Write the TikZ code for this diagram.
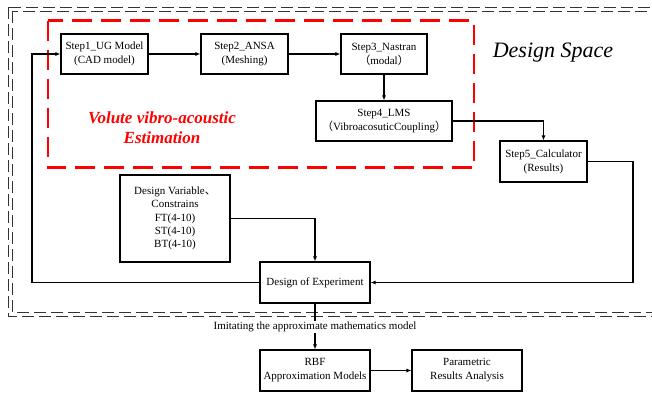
\documentclass[tikz,border=0pt]{standalone}
\usepackage{fontspec}
\setmainfont{Liberation Serif}
\newfontfamily\cjkf{Noto Sans CJK SC}
\usetikzlibrary{arrows.meta}
\tikzset{
  box/.style={draw=black, line width=1.1pt, fill=white, align=center, inner sep=1pt,
    font=\fontsize{11}{14}\selectfont, minimum height=40pt},
  conn/.style={line width=1.1pt, -{Latex[length=5pt,width=4pt]}},
  outerdash/.style={draw=black!80, line width=0.9pt, dash pattern=on 12pt off 5pt},
  reddash/.style={draw=red, line width=2.6pt, dash pattern=on 20pt off 9pt},
}
\begin{document}
\begin{tikzpicture}[x=1pt, y=-1pt]
\useasboundingbox (0,0) rectangle (652,394);
\clip (0,0) rectangle (652,394);
% double dashed border
\draw[outerdash] (8,7) rectangle (700,316);
\draw[outerdash] (12,11) rectangle (700,312);
% red dashed region
\draw[reddash] (48,20.5) rectangle (474,167.5);
% labels
\node[font=\fontsize{22}{26}\selectfont\itshape] (ds) at (553,53) {Design Space};
\node[font=\fontsize{17}{20}\selectfont\bfseries\itshape, text=red, align=center] (vol) at (162,128) {Volute vibro-acoustic\\Estimation};
% nodes
\node[box, minimum width=87pt] (s1) at (104.5,54) {Step1\_UG Model\\(CAD model)};
\node[box, minimum width=87pt] (s2) at (244.5,54) {Step2\_ANSA\\(Meshing)};
\node[box, minimum width=86pt] (s3) at (384,54) {Step3\_Nastran\\{\cjkf （}modal{\cjkf ）}};
\node[box, minimum width=136pt] (s4) at (384,121) {Step4\_LMS\\{\cjkf （}VibroacosuticCoupling{\cjkf ）}};
\node[box, minimum width=87pt, minimum height=41pt] (s5) at (543.5,161.5) {Step5\_Calculator\\(Results)};
\node[box, minimum width=110pt, minimum height=87pt, font=\fontsize{11}{13.4}\selectfont] (dv) at (175,218.5) {Design Variable{\cjkf 、}\\Constrains\\FT(4-10)\\ST(4-10)\\BT(4-10)};
\node[box, minimum width=110pt, minimum height=41pt] (doe) at (315,282.5) {Design of Experiment};
\node[box, minimum width=110pt, minimum height=41pt] (rbf) at (315,370.5) {RBF\\Approximation Models};
\node[box, minimum width=110pt, minimum height=41pt] (par) at (467,370.5) {Parametric\\Results Analysis};
% connectors
\draw[conn] (s1) -- (s2);
\draw[conn] (s2) -- (s3);
\draw[conn] (s3) -- (s4);
\draw[conn] (s4.east) -| (s5.north);
\coordinate (r5) at (633,161.5);
\draw[conn] (s5.east) -- (r5) |- (doe.east);
\coordinate (l1) at (32,282.5);
\draw[conn] (doe.west) -- (l1) |- (s1.west);
\draw[conn] (dv.east) -| (doe.north);
\draw[conn] (doe) -- node[fill=white, inner sep=1pt, font=\fontsize{11}{13}\selectfont] (imit) {Imitating the approximate mathematics model} (rbf);
\draw[conn] (rbf) -- (par);
\end{tikzpicture}
\end{document}
